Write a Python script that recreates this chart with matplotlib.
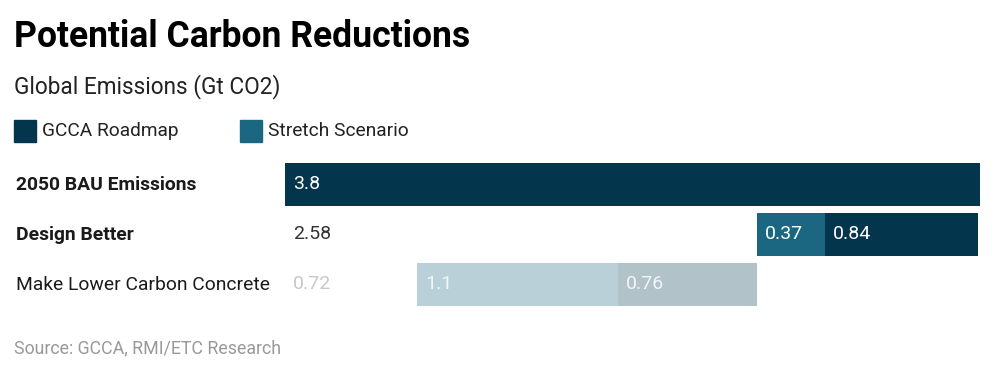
import matplotlib.pyplot as plt

plt.rcParams['font.family'] = ['Roboto', 'DejaVu Sans']

categories = ["2050 BAU Emissions", "Design Better", "Make Lower Carbon Concrete"]
bold_rows = [True, True, False]
offset = [0, 2.58, 0.72]      # hidden remainder, shown only as a label
stretch = [0, 0.37, 1.1]
gcca = [3.8, 0.84, 0.76]
row_alpha = [1.0, 1.0, 0.3]

c_gcca = "#03354d"
c_stretch = "#1b6680"

W, H = 1000, 377
fig = plt.figure(figsize=(W / 100, H / 100), dpi=100)


def px(x, y):
    return x / W, 1 - y / H


# axes spans x 285..980 px, y 159..309 px
ax = fig.add_axes([285 / W, 1 - 309 / H, 695 / W, 150 / H])
ax.set_xlim(0, 3.8)
ax.set_ylim(2.5, -0.5)
ax.axis("off")

bh = 0.86
for i, cat in enumerate(categories):
    left = 0
    # hidden offset segment
    if offset[i] > 0:
        col = "#333333" if row_alpha[i] == 1 else "#c8c8c8"
        ax.text(left + 0.045, i, f"{offset[i]:g}", va="center", ha="left",
                fontsize=14, color=col)
        left += offset[i]
    for val, c in ((stretch[i], c_stretch), (gcca[i], c_gcca)):
        if val <= 0:
            continue
        ax.barh(i, val, left=left, height=bh, color=c, alpha=row_alpha[i],
                edgecolor="none")
        tcol = "white" if row_alpha[i] == 1 else "#f2f6f8"
        ax.text(left + 0.045, i, f"{val:g}", va="center", ha="left",
                fontsize=14, color=tcol)
        left += val
    fig.text(16 / W, 1 - (185 + 50 * i) / H, cat, va="center", ha="left",
             fontsize=13.9, color="#1a1a1a",
             fontweight="bold" if bold_rows[i] else "normal")

# titles
fig.text(*px(14, 37), "Potential Carbon Reductions", fontsize=25.6,
         fontweight="bold", va="center", ha="left", color="#000000")
fig.text(*px(14, 87), "Global Emissions (Gt CO2)", fontsize=16.3,
         va="center", ha="left", color="#222222")

# legend
for x0, label, c in ((14, "GCCA Roadmap", c_gcca), (240, "Stretch Scenario", c_stretch)):
    fig.patches.append(plt.Rectangle(px(x0, 142), 22 / W, 22 / H, color=c,
                                     transform=fig.transFigure, figure=fig))
    fig.text(*px(x0 + 28, 131), label, fontsize=13.8, va="center", ha="left",
             color="#222222")

fig.text(*px(14, 348), "Source: GCCA, RMI/ETC Research", fontsize=12.8,
         va="center", ha="left", color="#999999")

fig.savefig("out.png", dpi=100)
